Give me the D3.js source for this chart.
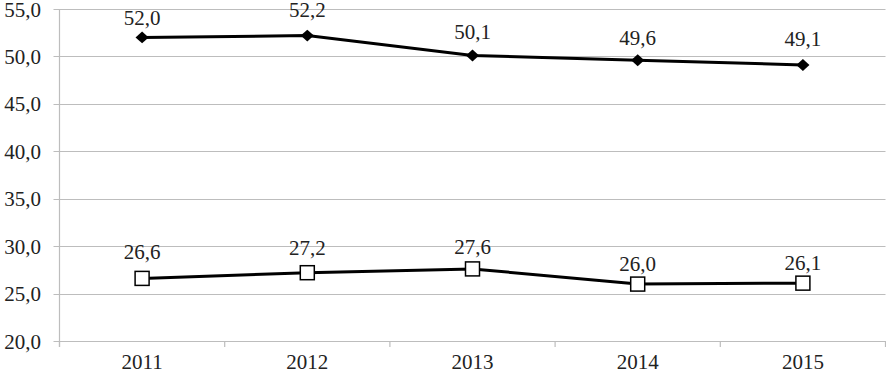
<!DOCTYPE html>
<html>
<head>
<meta charset="utf-8">
<script src="https://cdn.jsdelivr.net/npm/d3@7"></script>
<style>
  body { margin: 0; background: #fff; }
</style>
</head>
<body>
<div id="plot"></div>
<script>
const years = ["2011", "2012", "2013", "2014", "2015"];
const upperSeries = [52.0, 52.2, 50.1, 49.6, 49.1];
const lowerSeries = [26.6, 27.2, 27.6, 26.0, 26.1];
const yTicks = [20, 25, 30, 35, 40, 45, 50, 55];
// label distance above each point (px), as placed in the original
const upperLabelGap = [12, 19, 16, 15, 19];
const lowerLabelGap = [19, 18, 15, 13, 13];

window.addEventListener("load", main);

function main(){
  const width = 886, height = 374;
  const left = 59.5, right = 885.5, top = 9, bottom = 341;

  let svg = d3.select('#plot')
    .append('svg')
    .attr('width', width)
    .attr('height', height)
    .attr('font-family', "'Liberation Serif', 'Times New Roman', 'DejaVu Serif', serif");

  let x = d3.scaleBand().domain(years).range([left, right]);
  let y = d3.scaleLinear().domain([20, 55]).range([bottom, top]);
  const fmt = v => d3.format(".1f")(v).replace(".", ",");
  const cx = i => x(years[i]) + x.bandwidth() / 2;

  // gridlines
  svg.append('g')
    .selectAll('line')
    .data(yTicks)
    .join('line')
    .attr('x1', left - 6).attr('x2', right)
    .attr('y1', d => Math.round(y(d)) + 0.5).attr('y2', d => Math.round(y(d)) + 0.5)
    .attr('stroke', '#bdbdbd').attr('stroke-width', 1.2);

  // y axis line
  svg.append('line')
    .attr('x1', left).attr('x2', left)
    .attr('y1', top).attr('y2', bottom + 6)
    .attr('stroke', '#bdbdbd').attr('stroke-width', 1.2);

  // x ticks at band boundaries
  svg.append('g')
    .selectAll('line')
    .data(years.concat(['end']))
    .join('line')
    .attr('x1', (d, i) => left + i * x.step()).attr('x2', (d, i) => left + i * x.step())
    .attr('y1', bottom).attr('y2', bottom + 6)
    .attr('stroke', '#bdbdbd').attr('stroke-width', 1.2);

  // y labels
  svg.append('g')
    .selectAll('text')
    .data(yTicks)
    .join('text')
    .attr('x', 41)
    .attr('y', d => y(d) + 7.5)
    .attr('text-anchor', 'end')
    .attr('font-size', 21)
    .attr('fill', '#222')
    .text(fmt);

  // x labels
  svg.append('g')
    .selectAll('text')
    .data(years)
    .join('text')
    .attr('x', d => x(d) + x.bandwidth() / 2)
    .attr('y', 369)
    .attr('text-anchor', 'middle')
    .attr('font-size', 21)
    .attr('fill', '#222')
    .text(d => d);

  let line = d3.line()
    .x((d, i) => cx(i))
    .y(d => y(d));

  [upperSeries, lowerSeries].forEach(s => {
    svg.append('path')
      .attr('d', line(s))
      .attr('fill', 'none')
      .attr('stroke', '#000')
      .attr('stroke-width', 3);
  });

  // diamond markers
  svg.append('g')
    .selectAll('path')
    .data(upperSeries)
    .join('path')
    .attr('d', d3.symbol(d3.symbolDiamond2, 110))
    .attr('transform', (d, i) => `translate(${cx(i)},${y(d)}) scale(1,0.9)`)
    .attr('fill', '#000');

  // square markers
  svg.append('g')
    .selectAll('rect')
    .data(lowerSeries)
    .join('rect')
    .attr('x', (d, i) => cx(i) - 7)
    .attr('y', d => y(d) - 7)
    .attr('width', 14).attr('height', 14)
    .attr('fill', '#fff')
    .attr('stroke', '#000')
    .attr('stroke-width', 1.5);

  // data labels
  [[upperSeries, upperLabelGap], [lowerSeries, lowerLabelGap]].forEach(([s, gap]) => {
    svg.append('g')
      .selectAll('text')
      .data(s)
      .join('text')
      .attr('x', (d, i) => cx(i))
      .attr('y', (d, i) => y(d) - gap[i])
      .attr('text-anchor', 'middle')
      .attr('font-size', 21)
      .attr('fill', '#222')
      .text(fmt);
  });
}
</script>
</body>
</html>
